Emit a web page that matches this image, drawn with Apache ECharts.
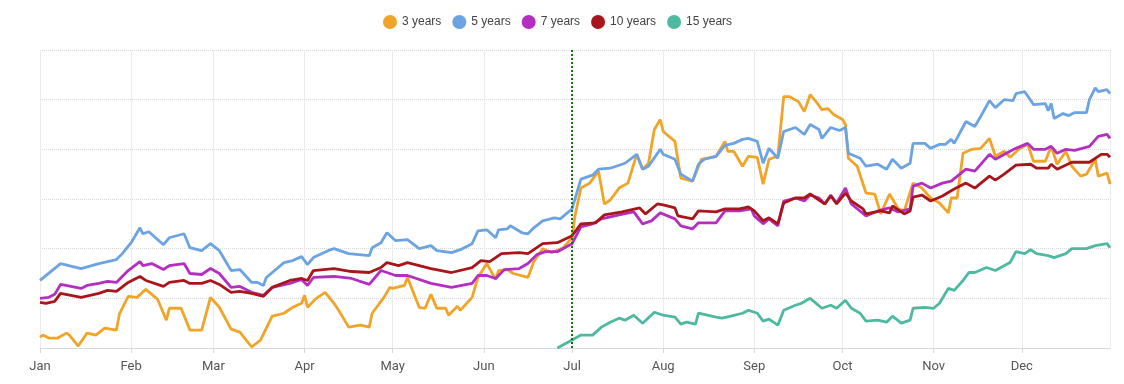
<!DOCTYPE html>
<html><head><meta charset="utf-8">
<script src="https://cdn.jsdelivr.net/npm/echarts@6/dist/echarts.min.js"></script>
<style>html,body{margin:0;padding:0;background:#fff}#c{width:1124px;height:384px}</style>
</head><body><div id="c"></div>
<script>
const YEAR = 2023;
const monthLabels = ['Jan','Feb','Mar','Apr','May','Jun','Jul','Aug','Sep','Oct','Nov','Dec'];
const seriesNames = ['3 years','5 years','7 years','10 years','15 years'];
const seriesColors = ['#f0a428','#6ba3e3','#b42fc1','#a8161b','#4db9a0'];
const markerDay = 181; // Jul 1

// [day of year, index value]
const threeYears = [[0,11],[1,13],[3,10],[6,10],[9,15],[10,13],[13,2],[16,15],[19,13],[22,20],[26,18],[27,34],[30,52],[33,51],[36,59],[40,49],[43,28],[44,40],[48,40],[51,18],[55,18],[58,51],[61,41],[65,19],[68,16],[72,1],[75,8],[79,32],[83,35],[86,41],[89,45],[90,53],[91,41],[94,50],[97,56],[100,45],[102,36],[105,21],[109,23],[112,21],[113,35],[117,51],[119,61],[120,60],[124,63],[125,71],[129,41],[131,40],[133,54],[135,40],[138,40],[139,33],[142,42],[143,38],[147,51],[149,71],[152,85],[155,69],[156,78],[159,79],[161,75],[166,71],[168,87],[171,100],[174,96],[178,101],[181,111],[182,133],[184,161],[187,166],[190,178],[192,145],[194,149],[197,161],[200,166],[203,195],[205,180],[207,186],[209,220],[211,230],[212,218],[216,208],[218,171],[222,168],[225,190],[230,193],[233,208],[234,198],[236,198],[239,183],[241,193],[244,192],[246,165],[248,190],[251,193],[253,253],[255,253],[258,248],[260,238],[262,255],[264,248],[266,240],[268,241],[270,235],[273,230],[274,225],[275,191],[278,183],[281,156],[284,155],[286,135],[289,155],[292,140],[294,138],[297,166],[300,161],[303,151],[306,146],[309,136],[310,151],[312,151],[314,196],[317,200],[320,201],[323,211],[325,193],[328,198],[330,192],[333,200],[336,205],[338,188],[342,188],[344,203],[346,185],[349,198],[351,183],[354,173],[356,175],[359,190],[360,173],[363,176],[364,165]];

const fiveYears = [[0,68],[7,85],[14,80],[20,85],[26,89],[28,95],[31,106],[34,121],[35,115],[37,117],[42,104],[44,111],[49,115],[51,101],[55,98],[58,105],[61,98],[65,78],[68,79],[72,66],[74,66],[76,63],[77,71],[83,86],[86,88],[89,92],[91,84],[93,91],[98,98],[100,100],[105,95],[112,93],[113,101],[116,106],[118,116],[121,108],[125,109],[129,100],[133,103],[135,98],[140,96],[143,99],[147,105],[149,118],[152,119],[155,111],[156,119],[159,120],[160,123],[164,116],[166,115],[168,121],[171,128],[175,131],[177,130],[181,140],[184,170],[188,174],[190,180],[194,181],[199,186],[203,195],[205,180],[207,183],[211,200],[212,195],[216,190],[218,175],[222,168],[224,185],[226,190],[230,193],[233,204],[236,206],[239,210],[241,211],[244,208],[246,186],[248,201],[251,191],[253,218],[257,222],[260,215],[262,225],[265,220],[266,211],[269,222],[272,219],[274,222],[275,196],[279,191],[281,183],[285,185],[288,180],[290,190],[293,181],[296,186],[297,206],[301,206],[303,201],[306,205],[308,205],[310,210],[311,206],[315,228],[318,223],[320,233],[323,249],[325,242],[328,250],[331,249],[332,256],[335,258],[338,245],[342,246],[343,239],[344,246],[345,231],[348,236],[350,234],[352,237],[356,237],[357,250],[359,262],[360,258],[363,260],[364,256]];

const sevenYears = [[0,50],[3,51],[5,54],[7,64],[14,60],[16,63],[20,65],[23,67],[26,66],[30,78],[34,87],[35,83],[38,85],[42,79],[44,83],[49,85],[51,75],[55,74],[58,80],[61,75],[65,61],[68,62],[72,56],[76,53],[79,61],[85,65],[89,69],[91,63],[93,71],[100,72],[106,70],[112,64],[116,78],[118,76],[121,73],[125,73],[133,65],[140,61],[147,65],[149,73],[152,73],[155,70],[158,79],[163,80],[166,85],[169,94],[172,97],[176,97],[181,105],[184,122],[188,125],[191,130],[197,134],[202,137],[205,125],[208,128],[211,136],[216,130],[218,123],[222,120],[224,126],[230,126],[233,138],[238,138],[242,140],[243,133],[246,125],[248,130],[251,123],[253,148],[257,151],[260,148],[262,154],[265,151],[267,145],[269,154],[271,146],[274,161],[276,145],[281,133],[285,138],[289,141],[292,137],[296,140],[297,163],[300,166],[303,161],[307,166],[310,168],[315,180],[318,178],[323,195],[325,190],[330,198],[332,201],[336,206],[338,200],[342,200],[344,203],[346,196],[349,200],[352,199],[357,203],[360,213],[363,215],[364,211]];

const tenYears = [[0,46],[2,45],[5,47],[7,55],[14,51],[17,53],[20,55],[23,58],[26,57],[30,66],[34,72],[36,68],[42,62],[44,66],[49,68],[51,65],[55,65],[58,68],[61,64],[65,56],[68,57],[72,55],[76,52],[79,61],[85,68],[89,70],[91,68],[93,78],[100,80],[106,77],[112,76],[116,81],[118,86],[122,83],[125,86],[133,80],[140,76],[147,81],[150,88],[153,87],[157,95],[163,96],[166,95],[171,105],[176,106],[181,113],[184,125],[189,126],[192,134],[198,137],[204,141],[206,135],[210,145],[212,144],[216,141],[217,133],[222,130],[224,138],[230,137],[233,140],[238,140],[241,142],[243,138],[246,128],[248,131],[251,125],[253,146],[257,151],[260,151],[262,155],[267,145],[269,153],[271,145],[274,156],[276,148],[280,140],[281,135],[286,138],[289,136],[290,143],[294,135],[296,138],[297,152],[300,154],[303,148],[307,153],[311,160],[315,166],[318,161],[323,173],[325,169],[328,175],[332,184],[337,185],[339,181],[343,181],[344,185],[346,180],[351,187],[357,187],[361,195],[363,195],[364,192]];

const fifteenYears = [[176,0],[181,8],[184,13],[188,13],[191,21],[194,26],[197,30],[199,28],[202,33],[205,25],[209,36],[212,33],[216,31],[218,24],[220,26],[223,24],[224,35],[230,31],[232,30],[235,32],[239,35],[241,38],[244,35],[246,27],[248,29],[251,23],[253,38],[257,43],[259,45],[262,50],[266,40],[269,43],[271,40],[274,48],[276,40],[279,35],[281,27],[285,28],[288,26],[290,32],[293,25],[296,28],[297,40],[301,41],[304,40],[306,45],[309,60],[311,58],[314,68],[316,76],[318,76],[322,81],[325,78],[330,86],[332,97],[335,95],[337,99],[339,95],[343,93],[345,91],[349,95],[351,100],[356,100],[359,103],[363,105],[364,101]];

const allData = [threeYears, fiveYears, sevenYears, tenYears, fifteenYears];
const toTime = d => new Date(YEAR, 0, 1 + d).getTime();
const DAY = 86400000;

const chart = echarts.init(document.getElementById('c'), null, {renderer: 'canvas'});
const series = allData.map((arr, i) => {
  const s = {
    name: seriesNames[i], type: 'line', showSymbol: false, symbol: 'none',
    data: arr.map(p => [toTime(p[0]), p[1]]),
    lineStyle: {width: 2.8, color: seriesColors[i]},
    itemStyle: {color: seriesColors[i]},
    emphasis: {disabled: true}
  };
  if (i === 0) {
    s.markLine = {
      silent: true, symbol: ['none', 'none'], label: {show: false},
      lineStyle: {color: '#0b7a0b', type: 'dotted', width: 2},
      data: [{xAxis: toTime(markerDay)}]
    };
  }
  return s;
});

chart.setOption({
  animation: false,
  legend: {
    data: seriesNames, top: 10, left: 378, icon: 'circle',
    itemWidth: 14, itemHeight: 14, itemGap: 11,
    textStyle: {fontSize: 12, color: '#444', fontFamily: 'Liberation Sans, Arial, sans-serif'}
  },
  grid: {left: 40, right: 14, top: 50, bottom: 36, outerBoundsMode: 'none'},
  xAxis: {
    type: 'time', min: toTime(0), max: toTime(364),
    splitNumber: 12, minInterval: 28 * DAY, maxInterval: 31 * DAY,
    axisLine: {lineStyle: {color: '#d8d8d8'}},
    axisTick: {show: true, length: 5, lineStyle: {color: '#d8d8d8'}},
    axisLabel: {
      formatter: v => monthLabels[new Date(v).getMonth()],
      color: '#555', fontSize: 13, fontFamily: 'Roboto, sans-serif', margin: 12,
      showMaxLabel: false
    },
    splitLine: {show: true, lineStyle: {color: '#ececec', type: 'solid'}}
  },
  yAxis: {
    type: 'value', min: 0, max: 300, interval: 50,
    axisLabel: {show: false}, axisLine: {show: false}, axisTick: {show: false},
    splitLine: {lineStyle: {color: '#d9d9d9', type: 'dotted'}}
  },
  series: series
});
</script></body></html>
